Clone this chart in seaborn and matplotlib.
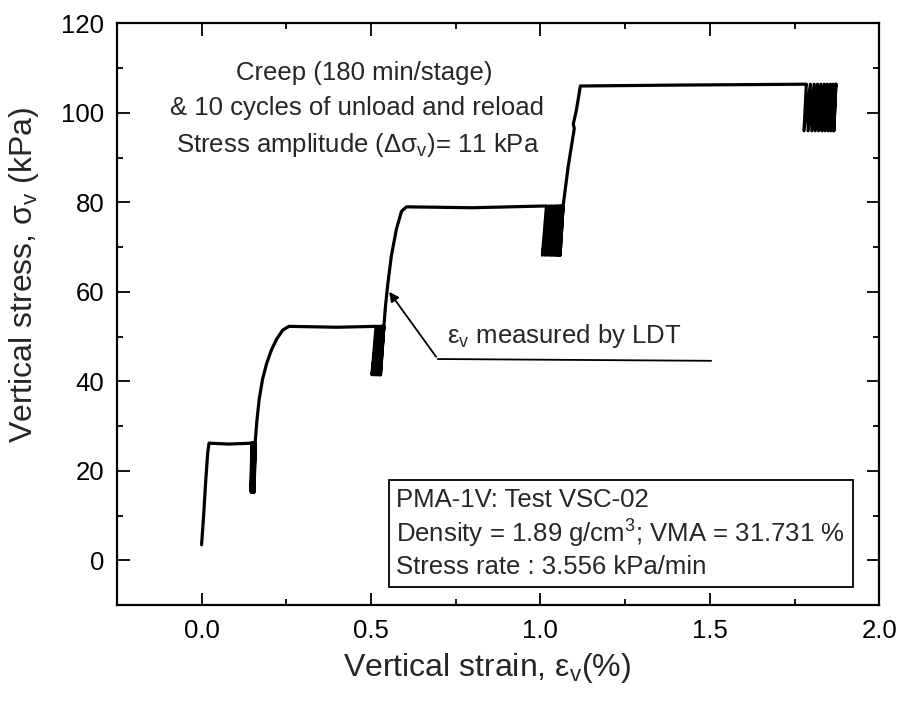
import numpy as np
import pandas as pd
from matplotlib import pyplot as plt
import seaborn as sns

# loading ramps and creep plateaus (strain %, stress kPa)
load1_strain = [0.000, 0.006, 0.012, 0.018, 0.022, 0.080, 0.148]
load1_stress = [3.5, 10.0, 17.5, 24.0, 26.2, 26.0, 26.2]

load2_strain = [0.158, 0.163, 0.170, 0.180, 0.192, 0.206, 0.222, 0.240, 0.258, 0.400, 0.515]
load2_stress = [26.2, 31.0, 36.0, 40.5, 44.0, 47.0, 49.5, 51.5, 52.3, 52.1, 52.3]

load3_strain = [0.538, 0.543, 0.550, 0.560, 0.575, 0.590, 0.605, 0.800, 1.018]
load3_stress = [52.3, 57.0, 62.0, 68.0, 74.0, 78.0, 79.0, 78.8, 79.2]

load4_strain = [1.067, 1.082, 1.100, 1.097, 1.106, 1.118, 1.400, 1.785]
load4_stress = [79.2, 88.0, 96.5, 97.5, 100.5, 106.0, 106.2, 106.4]

# unload / reload cycles (10 per stage): strain at top and bottom of each cycle
cyc1_top = [0.148, 0.149, 0.150, 0.151, 0.152, 0.153, 0.154, 0.155, 0.156, 0.158]
cyc1_bot = [0.146, 0.147, 0.148, 0.149, 0.150, 0.151, 0.152, 0.153, 0.154, 0.155]
cyc1_hi, cyc1_lo = 26.2, 15.3

cyc2_top = [0.515, 0.519, 0.522, 0.525, 0.528, 0.530, 0.532, 0.534, 0.536, 0.538]
cyc2_bot = [0.503, 0.507, 0.511, 0.514, 0.517, 0.520, 0.522, 0.524, 0.526, 0.528]
cyc2_hi, cyc2_lo = 52.3, 41.5

cyc3_top = [1.018, 1.026, 1.033, 1.039, 1.045, 1.050, 1.055, 1.059, 1.063, 1.067]
cyc3_bot = [1.006, 1.014, 1.021, 1.028, 1.034, 1.040, 1.045, 1.050, 1.054, 1.058]
cyc3_hi, cyc3_lo = 79.2, 68.2

cyc4_top = [1.785, 1.797, 1.808, 1.818, 1.828, 1.838, 1.847, 1.856, 1.864, 1.872]
cyc4_bot = [1.778, 1.790, 1.801, 1.811, 1.821, 1.831, 1.840, 1.849, 1.857, 1.866]
cyc4_hi, cyc4_lo = 106.4, 96.0


def cycles(top, bot, hi, lo):
    xs, ys = [], []
    for t, b in zip(top, bot):
        xs += [t, b]
        ys += [hi, lo]
    xs.append(top[-1])
    ys.append(hi)
    return xs, ys


parts = [(load1_strain, load1_stress), cycles(cyc1_top, cyc1_bot, cyc1_hi, cyc1_lo),
         (load2_strain, load2_stress), cycles(cyc2_top, cyc2_bot, cyc2_hi, cyc2_lo),
         (load3_strain, load3_stress), cycles(cyc3_top, cyc3_bot, cyc3_hi, cyc3_lo),
         (load4_strain, load4_stress), cycles(cyc4_top, cyc4_bot, cyc4_hi, cyc4_lo)]
strain, stress = [], []
for xs, ys in parts:
    strain += list(xs)
    stress += list(ys)
df = pd.DataFrame({"strain": strain, "stress": stress})

sns.set_theme(style="ticks")
plt.rcParams['font.family'] = ['Liberation Sans', 'DejaVu Sans']
plt.rcParams['mathtext.fontset'] = 'custom'
plt.rcParams['mathtext.rm'] = 'Liberation Sans'
plt.rcParams['mathtext.it'] = 'Liberation Sans:italic'

fig, ax = plt.subplots(figsize=(8.99, 7.07), dpi=100)
fig.subplots_adjust(left=0.130, right=0.978, bottom=0.144, top=0.967)

sns.lineplot(data=df, x="strain", y="stress", sort=False, estimator=None,
             color="black", lw=2.3, ax=ax)

ax.set_xlim(-0.25, 2.0)
ax.set_ylim(-10, 120)
ax.set_xticks([0.0, 0.5, 1.0, 1.5, 2.0])
ax.set_xticks([0.25, 0.75, 1.25, 1.75], minor=True)
ax.set_yticks([0, 20, 40, 60, 80, 100, 120])
ax.set_yticks([-10, 10, 30, 50, 70, 90, 110], minor=True)
ax.xaxis.set_major_formatter(plt.FormatStrFormatter('%.1f'))
ax.tick_params(which='both', direction='in', top=True, right=True, width=1.3, colors='black')
ax.tick_params(which='major', length=9, labelsize=18.5)
ax.tick_params(axis='x', which='major', pad=10)
ax.tick_params(axis='y', which='major', pad=9)
ax.tick_params(which='minor', length=4.5)
for s in ax.spines.values():
    s.set_linewidth(1.6)
    s.set_color('black')

ax.set_xlabel(r'Vertical strain, ε$_\mathregular{v}$(%)', fontsize=23, labelpad=6)
ax.set_ylabel(r'Vertical stress, σ$_\mathregular{v}$ (kPa)', fontsize=23)
ax.xaxis.label.set_x(0.486)
ax.yaxis.set_label_coords(-0.099, 0.567)

ax.text(0.48, 108.9, 'Creep (180 min/stage)', ha='center', va='center', fontsize=18.5)
ax.text(0.46, 101.0, '& 10 cycles of unload and reload', ha='center', va='center', fontsize=18.5)
ax.text(0.46, 92.9, r'Stress amplitude (Δσ$_\mathregular{v}$)= 11 kPa', ha='center', va='center', fontsize=18.5)

ax.annotate('', xy=(0.549, 60.5), xytext=(0.697, 45.0),
            arrowprops=dict(arrowstyle='-|>', color='black', lw=1.3, mutation_scale=14))
ax.plot([0.697, 1.504], [45.0, 44.6], color='black', lw=1.3)
ax.text(0.725, 47.0, r'ε$_\mathregular{v}$ measured by LDT', ha='left', va='bottom', fontsize=18.5)

ax.text(0.575, 6.0,
        'PMA-1V: Test VSC-02\n'
        'Density = 1.89 g/cm$^\\mathregular{3}$; VMA = 31.731 %\n'
        'Stress rate : 3.556 kPa/min',
        ha='left', va='center', fontsize=18.5, linespacing=1.25,
        bbox=dict(boxstyle='square,pad=0.3', fc='white', ec='black', lw=1.3))

fig.savefig("out.png", dpi=100)
